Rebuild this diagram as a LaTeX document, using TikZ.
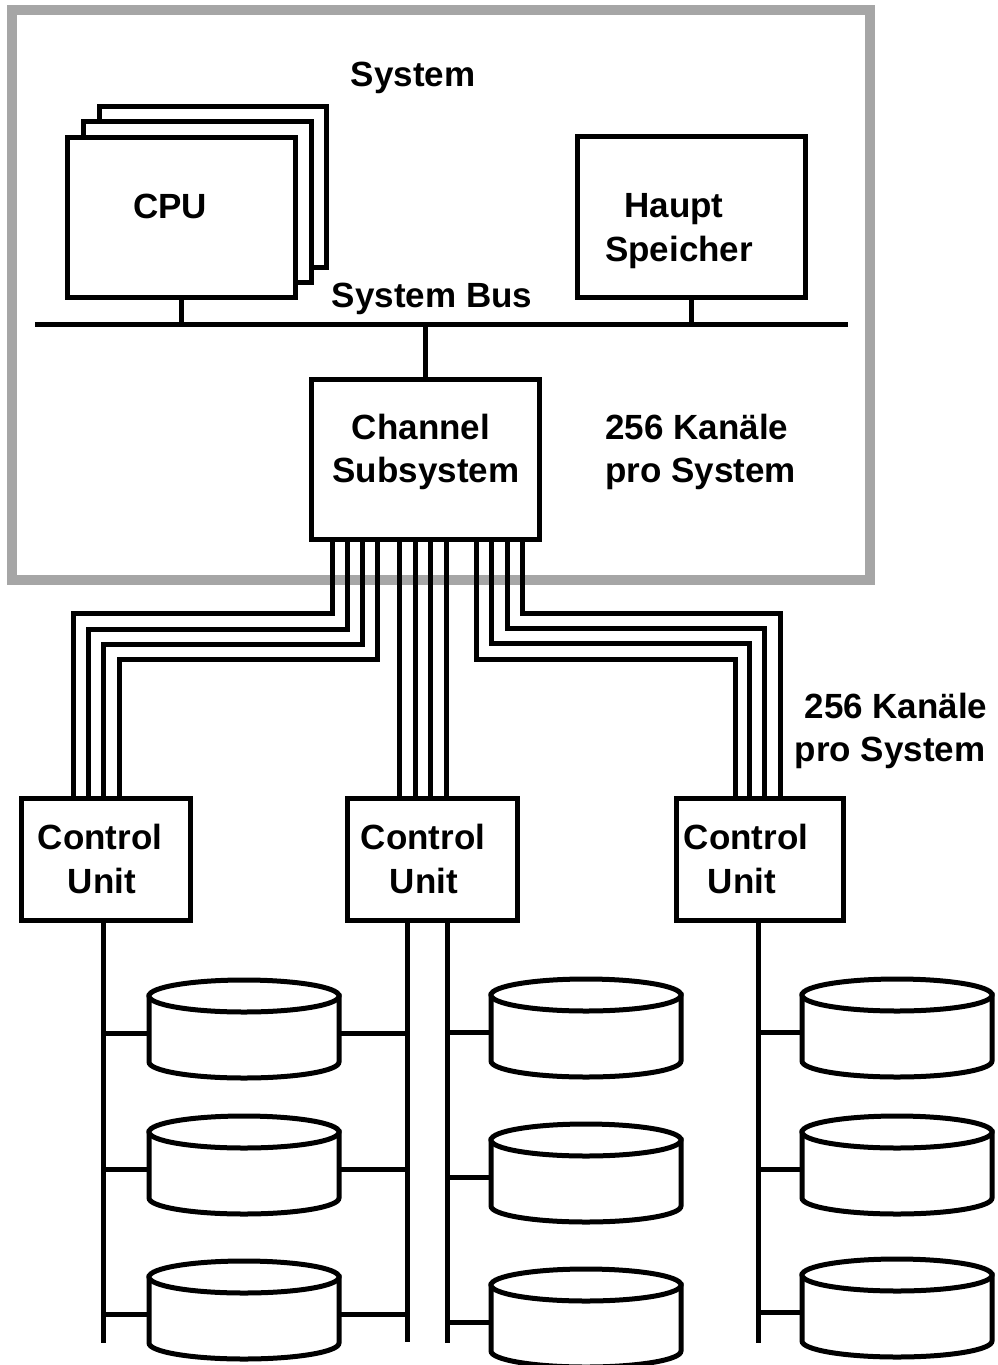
\documentclass[tikz,border=0pt]{standalone}
\usepackage{fontspec}
\setmainfont{Liberation Sans}
\begin{document}
\begin{tikzpicture}[x=1pt,y=-1pt,
  line width=5pt,
  frame/.style={draw={rgb,255:red,166;green,166;blue,166},line width=10pt},
  unitbox/.style={draw,fill=white,inner sep=0pt,anchor=north west},
  lbl/.style={inner sep=0pt,anchor=base,font=\fontsize{35}{42}\selectfont\bfseries},
  lblw/.style={lbl,anchor=base west},
  pics/disk/.style={code={
    \path[draw,fill=white] (-95,0) -- (-95,66)
      arc[start angle=180,end angle=0,x radius=95,y radius=16] -- (95,0) -- cycle;
    \draw[fill=white] (0,0) ellipse[x radius=95,y radius=16];
    \coordinate (-w) at (-95,37);
    \coordinate (-e) at (95,37);
  }}]
\useasboundingbox (0,0) rectangle (998,1365);

% system frame
\draw[frame] (12,10) rectangle (870,580);

% processors (stacked) and main memory
\node[unitbox,minimum width=227pt,minimum height=161pt] (cpu3) at (97,104) {};
\node[unitbox,minimum width=228pt,minimum height=161pt] (cpu2) at (81,119) {};
\node[unitbox,minimum width=228pt,minimum height=160pt] (cpu) at (65,135) {};
\node[unitbox,minimum width=228pt,minimum height=161pt] (mem) at (575,134) {};

% system bus
\coordinate (busL) at (35,324);
\coordinate (busR) at (848,324);
\draw (busL) -- (busR);
\draw (cpu.south) -- (cpu.south |- busL);
\draw (mem.south) -- (mem.south |- busL);

% channel subsystem
\node[unitbox,minimum width=228pt,minimum height=160pt] (chs) at (309,377) {};
\draw (chs.north) -- (chs.north |- busL);

% control units
\node[unitbox,minimum width=169pt,minimum height=122pt] (cu1) at (19,796) {};
\node[unitbox,minimum width=170pt,minimum height=122pt] (cu2) at (345,796) {};
\node[unitbox,minimum width=167pt,minimum height=122pt] (cu3) at (674,796) {};

% channels
\foreach \xa/\yh/\xb in {332/613/73, 347/629/88, 362/644/103, 377/659/119}
  \draw (chs.south -| \xa,0) |- (\xb,\yh) -- (cu1.north -| \xb,0);
\foreach \xa in {399,415,430,446}
  \draw (chs.south -| \xa,0) -- (cu2.north -| \xa,0);
\foreach \xa/\yh/\xb in {522/613/780, 507/628/764, 491/643/749, 476/659/735}
  \draw (chs.south -| \xa,0) |- (\xb,\yh) -- (cu3.north -| \xb,0);

% device buses below the control units
\coordinate (b1) at (103,1343);
\coordinate (b2) at (407,1342);
\coordinate (b3) at (447,1343);
\coordinate (b4) at (758,1343);
\draw (cu1.south -| b1) -- (b1);
\draw (cu2.south -| b2) -- (b2);
\draw (cu2.south -| b3) -- (b3);
\draw (cu3.south -| b4) -- (b4);

% disks
\pic (d11) at (244,996) {disk};
\pic (d12) at (244,1132) {disk};
\pic (d13) at (244,1277) {disk};
\pic (d21) at (586,995) {disk};
\pic (d22) at (586,1140) {disk};
\pic (d23) at (586,1285) {disk};
\pic (d31) at (897,995) {disk};
\pic (d32) at (897,1132) {disk};
\pic (d33) at (897,1275) {disk};

\foreach \d in {d11,d12,d13}{
  \draw (\d-w -| b1) -- (\d-w);
  \draw (\d-e) -- (\d-e -| b2);
}
\foreach \d in {d21,d22,d23}
  \draw (\d-w -| b3) -- (\d-w);
\foreach \d in {d31,d32,d33}
  \draw (\d-w -| b4) -- (\d-w);

% labels
\node[lbl] (tsys) at (413,86) {System};
\node[lbl] (tcpu) at (170,218) {CPU};
\node[lbl] (tmem1) at (674,217) {Haupt};
\node[lbl] (tmem2) at (679,261) {Speicher};
\node[lbl] (tbus) at (432,307) {System Bus};
\node[lbl] (tch1) at (421,439) {Channel};
\node[lbl] (tch2) at (426,482) {Subsystem};
\node[lblw] (tk1) at (603,439) {256 Kanäle};
\node[lblw] (tk2) at (603,482) {pro System};
\node[lbl] (tk3) at (896,718) {256 Kanäle};
\node[lbl] (tk4) at (890,761) {pro System};
\node[lbl] (tcu1a) at (100,849) {Control};
\node[lbl] (tcu1b) at (102,893) {Unit};
\node[lbl] (tcu2a) at (423,849) {Control};
\node[lbl] (tcu2b) at (424,893) {Unit};
\node[lbl] (tcu3a) at (746,849) {Control};
\node[lbl] (tcu3b) at (742,893) {Unit};
\end{tikzpicture}
\end{document}
